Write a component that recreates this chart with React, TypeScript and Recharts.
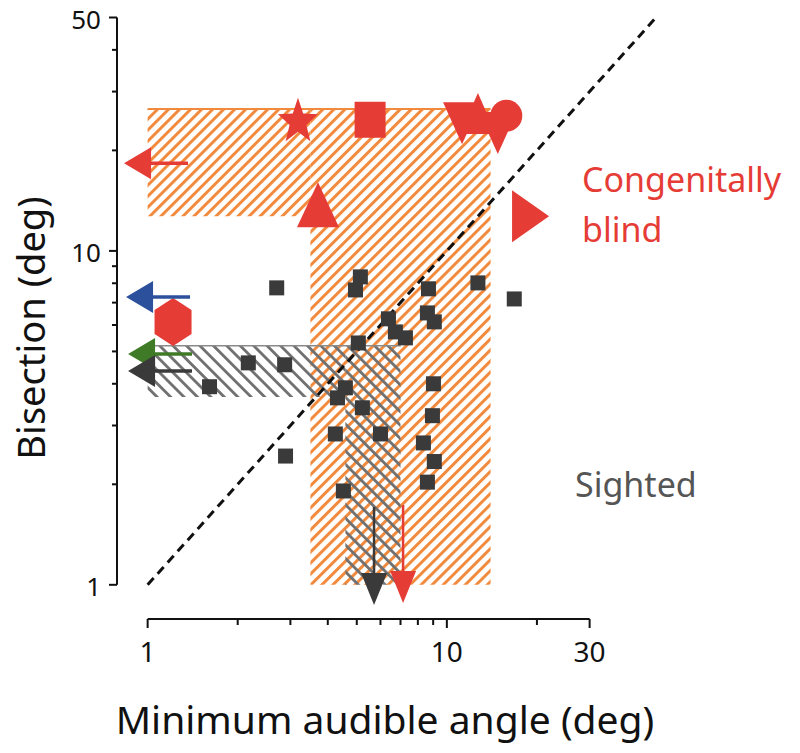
import React from "react";
import {
  ReferenceArea,
  ReferenceLine,
  Scatter,
  ScatterChart,
  XAxis,
  YAxis,
} from "recharts";

const FONT = '"Noto Sans", "Open Sans", sans-serif';
const RED = "#e63c36";
const DARK = "#3a3a3a";
const ORANGE = "#f28a3e";
const HATCH_GRAY = "#707070";

// axes (log-log)
const xDomain = [0.79, 50];
const yDomain = [0.79, 50];
const xTicks = [1, 2, 3, 4, 5, 6, 7, 8, 9, 10, 20, 30];
const xLabels = [1, 10, 30];
const yTicks = [1, 2, 3, 4, 5, 6, 7, 8, 9, 10, 20, 30, 40, 50];
const yLabels = [1, 10, 50];

// sighted listeners: minimum audible angle (x) vs bisection threshold (y)
const sightedMaa = [
  2.7, 2.17, 2.87, 1.61, 2.89, 5.14, 4.95, 5.06, 6.38, 6.73, 7.27, 4.58, 4.31, 5.22,
  4.24, 6.0, 4.51, 8.68, 8.61, 9.08, 9.02, 8.95, 8.35, 9.08, 8.61, 12.7, 16.8,
];
const sightedBisection = [
  7.75, 4.62, 4.56, 3.92, 2.43, 8.36, 7.64, 5.3, 6.26, 5.72, 5.49, 3.89, 3.63, 3.39,
  2.83, 2.83, 1.91, 7.7, 6.52, 6.13, 4.0, 3.21, 2.66, 2.34, 2.03, 8.02, 7.18,
];

// congenitally blind listeners
const blindMarkers = ["star", "square", "triUp", "triDown", "triUpSmall", "triDown", "circle", "triRight", "hexagon"];
const blindMaa = [3.18, 5.54, 3.71, 11.24, 12.7, 14.8, 15.8, 18.97, 1.216];
const blindBisection = [24.7, 24.7, 13.7, 24.3, 25.7, 22.7, 25.4, 12.7, 6.12];

// values off the scale (arrows)
const offGroups = ["blind", "groupB", "groupC", "sighted", "sighted", "blind"];
const offDirections = ["left", "left", "left", "left", "down", "down"];
const offMaa = [0.834, 0.847, 0.86, 0.86, 5.71, 7.14];
const offBisection = [18.3, 7.28, 4.91, 4.37, 0.87, 0.882];

// ranges (hatched)
const blindMaaRange = [3.5, 14];
const blindBisectionRange = [12.7, 26.6];
const sightedMaaRange = [4.58, 7.0];
const sightedBisectionRange = [3.65, 5.2];

const groupColors: Record<string, string> = {
  blind: RED,
  groupB: "#2c509c",
  groupC: "#3f7b27",
  sighted: DARK,
};

const sightedData = sightedMaa.map((x, i) => ({ x, y: sightedBisection[i] }));
const blindData = blindMaa.map((x, i) => ({ x, y: blindBisection[i], marker: blindMarkers[i] }));
const offData = offMaa.map((x, i) => ({
  x,
  y: offBisection[i],
  group: offGroups[i],
  dir: offDirections[i],
}));

function XTick({ x, y, payload }: any) {
  const major = xLabels.includes(payload.value);
  return (
    <g>
      <line x1={x} x2={x} y1={y} y2={y + (major ? 9 : 6)} stroke="#111" strokeWidth={2} />
      {major && (
        <text x={x} y={y + 43} textAnchor="middle" fontSize={28} fontFamily={FONT} fill="#111">
          {payload.value}
        </text>
      )}
    </g>
  );
}

function YTick({ x, y, payload }: any) {
  const major = yLabels.includes(payload.value);
  return (
    <g>
      <line x1={x} x2={x - (major ? 8 : 5)} y1={y} y2={y} stroke="#111" strokeWidth={2} />
      {major && (
        <text x={x - 16} y={y + 11} textAnchor="end" fontSize={26} fontFamily={FONT} fill="#111">
          {payload.value}
        </text>
      )}
    </g>
  );
}

function SquareShape({ cx, cy }: any) {
  return <rect x={cx - 7.5} y={cy - 7.5} width={15} height={15} fill={DARK} />;
}

function starPoints(cx: number, cy: number, rx: number, ry: number) {
  const pts: string[] = [];
  for (let i = 0; i < 10; i++) {
    const a = -Math.PI / 2 + (i * Math.PI) / 5;
    const k = i % 2 === 0 ? 1 : 0.42;
    pts.push(`${cx + rx * k * Math.cos(a)},${cy + ry * k * Math.sin(a)}`);
  }
  return pts.join(" ");
}

function BlindShape({ cx, cy, payload }: any) {
  switch (payload.marker) {
    case "star":
      return <polygon points={starPoints(cx, cy + 2, 21, 24)} fill={RED} />;
    case "square":
      return <rect x={cx - 15.5} y={cy - 18} width={31} height={36} fill={RED} />;
    case "triUp":
      return <polygon points={`${cx},${cy - 23} ${cx + 21},${cy + 22} ${cx - 21},${cy + 22}`} fill={RED} />;
    case "triUpSmall":
      return <polygon points={`${cx},${cy - 21} ${cx + 18},${cy + 20} ${cx - 18},${cy + 20}`} fill={RED} />;
    case "triDown":
      return <polygon points={`${cx - 19},${cy - 20} ${cx + 19},${cy - 20} ${cx},${cy + 22}`} fill={RED} />;
    case "circle":
      return <circle cx={cx} cy={cy} r={16} fill={RED} />;
    case "triRight":
      return <polygon points={`${cx - 18},${cy - 26} ${cx + 19},${cy} ${cx - 18},${cy + 26}`} fill={RED} />;
    case "hexagon":
      return (
        <polygon
          points={`${cx},${cy - 24} ${cx + 18.5},${cy - 12} ${cx + 18.5},${cy + 12} ${cx},${cy + 24} ${cx - 18.5},${cy + 12} ${cx - 18.5},${cy - 12}`}
          fill={RED}
        />
      );
    default:
      return <g />;
  }
}

function ArrowShape({ cx, cy, payload }: any) {
  const color = groupColors[payload.group];
  if (payload.dir === "left") {
    return (
      <g>
        <line x1={cx + 20} x2={cx + 64} y1={cy} y2={cy} stroke={color} strokeWidth={3.5} />
        <polygon points={`${cx},${cy} ${cx + 27},${cy - 16} ${cx + 27},${cy + 16}`} fill={color} />
      </g>
    );
  }
  return (
    <g>
      <line x1={cx} x2={cx} y1={cy - 25} y2={cy - 98} stroke={color} strokeWidth={2.5} />
      <polygon points={`${cx},${cy} ${cx - 13},${cy - 32} ${cx + 13},${cy - 32}`} fill={color} />
    </g>
  );
}

export default function App() {
  return (
    <div
      style={{
        position: "absolute",
        left: 0,
        top: 0,
        width: 800,
        height: 753,
        background: "#fff",
        fontFamily: FONT,
      }}
    >
      <ScatterChart width={800} height={753} margin={{ top: 17.5, right: 144, bottom: 74, left: 57 }}>
        <defs>
          <pattern id="hatchOrange" patternUnits="userSpaceOnUse" width="7.8" height="7.8" patternTransform="rotate(45)">
            <rect x="0" y="0" width="3" height="7.8" fill={ORANGE} />
          </pattern>
          <pattern id="hatchGray" patternUnits="userSpaceOnUse" width="9.5" height="9.5" patternTransform="rotate(-45)">
            <rect x="0" y="0" width="2.8" height="9.5" fill={HATCH_GRAY} />
          </pattern>
        </defs>
        <XAxis
          type="number"
          dataKey="x"
          scale="log"
          domain={xDomain}
          ticks={xTicks}
          interval={0}
          height={60}
          axisLine={false}
          tickLine={false}
          tickSize={0}
          tickMargin={0}
          tick={<XTick />}
        />
        <YAxis
          type="number"
          dataKey="y"
          scale="log"
          domain={yDomain}
          ticks={yTicks}
          interval={0}
          width={60}
          axisLine={false}
          tickLine={false}
          tickSize={0}
          tickMargin={0}
          tick={<YTick />}
        />

        {/* blind range */}
        <ReferenceArea
          x1={1}
          x2={blindMaaRange[0]}
          y1={blindBisectionRange[0]}
          y2={blindBisectionRange[1]}
          fill="url(#hatchOrange)"
          fillOpacity={1}
          stroke="none"
        />
        <ReferenceArea
          x1={blindMaaRange[0]}
          x2={blindMaaRange[1]}
          y1={1}
          y2={blindBisectionRange[1]}
          fill="url(#hatchOrange)"
          fillOpacity={1}
          stroke="none"
        />
        <ReferenceLine
          segment={[
            { x: 1, y: blindBisectionRange[1] },
            { x: blindMaaRange[1], y: blindBisectionRange[1] },
          ]}
          stroke={ORANGE}
          strokeWidth={2}
        />

        {/* sighted range */}
        <ReferenceArea
          x1={1}
          x2={sightedMaaRange[0]}
          y1={sightedBisectionRange[0]}
          y2={sightedBisectionRange[1]}
          fill="url(#hatchGray)"
          fillOpacity={1}
          stroke="none"
        />
        <ReferenceArea
          x1={sightedMaaRange[0]}
          x2={sightedMaaRange[1]}
          y1={1}
          y2={sightedBisectionRange[1]}
          fill="url(#hatchGray)"
          fillOpacity={1}
          stroke="none"
        />
        <ReferenceLine
          segment={[
            { x: 1, y: sightedBisectionRange[1] },
            { x: sightedMaaRange[1], y: sightedBisectionRange[1] },
          ]}
          stroke="#8a8a8a"
          strokeWidth={1.5}
        />

        {/* identity line */}
        <ReferenceLine
          segment={[
            { x: 1, y: 1 },
            { x: 50, y: 50 },
          ]}
          stroke="#111"
          strokeWidth={3}
          strokeDasharray="9 6"
        />

        {/* axis lines */}
        <ReferenceLine
          segment={[
            { x: 1, y: xDomain[0] },
            { x: 30, y: xDomain[0] },
          ]}
          stroke="#111"
          strokeWidth={2}
          ifOverflow="visible"
        />
        <ReferenceLine
          segment={[
            { x: yDomain[0], y: 1 },
            { x: yDomain[0], y: 50 },
          ]}
          stroke="#111"
          strokeWidth={2}
          ifOverflow="visible"
        />

        <Scatter data={sightedData} shape={<SquareShape />} isAnimationActive={false} />
        <Scatter data={blindData} shape={<BlindShape />} isAnimationActive={false} />
        <Scatter data={offData} shape={<ArrowShape />} isAnimationActive={false} />
      </ScatterChart>

      <div
        style={{
          position: "absolute",
          left: 30 - 200,
          top: 328 - 25,
          width: 400,
          height: 50,
          lineHeight: "50px",
          textAlign: "center",
          transform: "rotate(-90deg)",
          whiteSpace: "nowrap",
          fontSize: 38,
          color: "#111",
        }}
      >
        Bisection (deg)
      </div>
      <div
        style={{
          position: "absolute",
          left: 385 - 350,
          top: 719 - 25,
          width: 700,
          height: 50,
          lineHeight: "50px",
          textAlign: "center",
          whiteSpace: "nowrap",
          fontSize: 39,
          color: "#111",
        }}
      >
        Minimum audible angle (deg)
      </div>
      <div
        style={{
          position: "absolute",
          left: 582,
          top: 154,
          fontSize: 34,
          lineHeight: "50px",
          color: RED,
        }}
      >
        Congenitally
        <br />
        blind
      </div>
      <div
        style={{
          position: "absolute",
          left: 575,
          top: 459,
          fontSize: 34,
          lineHeight: "50px",
          color: "#555",
        }}
      >
        Sighted
      </div>
    </div>
  );
}
